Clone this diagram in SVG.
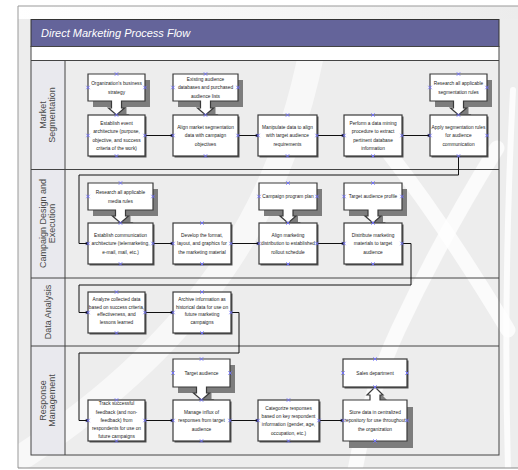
<svg xmlns="http://www.w3.org/2000/svg" width="518" height="470" viewBox="0 0 518 470">
<defs>
<style>
.bx{fill:#fff;stroke:#3a3a3a;stroke-width:1.2}
.sh{fill:#555}
.csh{fill:#7d7d7d}
.t{font-family:"Liberation Sans",Arial,sans-serif;font-size:6px;fill:#222;text-anchor:middle}
.lane{font-family:"Liberation Sans",Arial,sans-serif;font-size:9px;fill:#4a4a4a;text-anchor:middle}
.ln{fill:none;stroke:#444;stroke-width:1}
.cn{fill:none;stroke:#111;stroke-width:1;marker-end:url(#dot)}
.sw{fill:none;stroke:#fff;stroke-linecap:round}
</style>
<marker id="dot" viewBox="0 0 4 4" refX="3" refY="2" markerWidth="4" markerHeight="4" markerUnits="userSpaceOnUse">
<circle cx="2" cy="2" r="1.6" fill="#111"/>
</marker>
<g id="xm"><path d="M-1.7,-1.7L1.7,1.7M-1.7,1.7L1.7,-1.7" stroke="#7070ff" stroke-width="0.9" fill="none"/></g>
<linearGradient id="tg" x1="0" y1="0" x2="1" y2="0">
<stop offset="0" stop-color="#ffffff"/><stop offset="0.6" stop-color="#f4f4f4"/><stop offset="1" stop-color="#ececec"/>
</linearGradient>
<clipPath id="pg"><rect x="18" y="6" width="500" height="462"/></clipPath>
</defs>

<rect x="0" y="0" width="518" height="470" fill="#fff"/>
<g id="page">
<rect x="18" y="6" width="500" height="462" fill="#ededed"/>
<rect x="18" y="6" width="500" height="13" fill="url(#tg)"/>
<g clip-path="url(#pg)">
<path class="sw" d="M312,50 C285,190 215,330 25,455" stroke-width="26" opacity="0.6"/>
<path class="sw" d="M385,148 Q445,225 508,330" stroke-width="15" opacity="0.75"/>
<path class="sw" d="M497,148 Q440,240 398,330 Q370,390 355,470" stroke-width="15" opacity="0.75"/>
<path class="sw" d="M513,90 Q503,290 508,470" stroke-width="6" opacity="0.8"/>
</g>
<path d="M18,468 V6 H518" fill="none" stroke="#999" stroke-width="1"/>
<path d="M18,468 H518" fill="none" stroke="#888" stroke-width="1"/>
</g>

<g id="frame">
<rect x="31" y="19.5" width="468" height="27" fill="#64649a" stroke="#333" stroke-width="1"/>
<text x="41" y="37" font-family="Liberation Sans,Arial,sans-serif" font-size="11" font-style="italic" fill="#fff">Direct Marketing Process Flow</text>
<rect x="31" y="46.5" width="468" height="14" fill="#fff"/>
<rect x="31" y="60.5" width="34" height="394.5" fill="#e9e9ee"/>
<rect x="31" y="46.5" width="468" height="408.5" class="ln" stroke-width="1.2"/>
<path class="ln" d="M31,60.5 H499 M31,169.5 H499 M31,278 H499 M31,346 H499 M65,60.5 V455"/>
</g>

<g id="lanes">
<text class="lane" transform="translate(48,115) rotate(-90)"><tspan x="0" y="-2.1">Market</tspan><tspan x="0" y="6.9">Segmentation</tspan></text>
<text class="lane" transform="translate(48,223.5) rotate(-90)"><tspan x="0" y="-2.1">Campaign Design and</tspan><tspan x="0" y="6.9">Execution</tspan></text>
<text class="lane" transform="translate(48,312) rotate(-90)"><tspan x="0" y="3.2">Data Analysis</tspan></text>
<text class="lane" transform="translate(48,400.5) rotate(-90)"><tspan x="0" y="-2.1">Response</tspan><tspan x="0" y="6.9">Management</tspan></text>
</g>

<g id="connectors">
<path class="cn" d="M145,135.5 H173"/>
<path class="cn" d="M238,135.5 H258"/>
<path class="cn" d="M317,135.5 H344"/>
<path class="cn" d="M402,135.5 H430"/>
<path class="cn" d="M458.5,156 V175 H79 V243.5 H88"/>
<path class="cn" d="M153,243.5 H173"/>
<path class="cn" d="M231,243.5 H259"/>
<path class="cn" d="M317,243.5 H344"/>
<path class="cn" d="M402,243.5 H411 V285 H79 V312.5 H88"/>
<path class="cn" d="M145,312.5 H173"/>
<path class="cn" d="M231,312.5 H239 V353 H79 V420.5 H88"/>
<path class="cn" d="M145,420.5 H173"/>
<path class="cn" d="M230,420.5 H258"/>
<path class="cn" d="M319,420.5 H343"/>
</g>

<!-- Market Segmentation -->
<g id="ms-strategy">
<path class="csh" transform="translate(5,6)" d="M88,74 H145 V101 H121.5 V108 H124.5 L116.5,115 L108.5,108 H111.5 V101 H88 Z"/>
<path class="bx" d="M88,74 H145 V101 H121.5 V108 H124.5 L116.5,115 L108.5,108 H111.5 V101 H88 Z"/>
<text class="t" transform="translate(116.5,0) scale(0.8,1)"><tspan x="0" y="85.4">Organization's business</tspan><tspan x="0" y="93.6">strategy</tspan></text>
<use href="#xm" x="116.5" y="74"/><use href="#xm" x="88" y="87.5"/><use href="#xm" x="145" y="87.5"/>
</g>
<g id="ms-establish">
<rect class="sh" x="89.5" y="116.5" width="57" height="41"/>
<rect class="bx" x="88" y="115" width="57" height="41"/>
<text class="t" transform="translate(116.5,0) scale(0.8,1)"><tspan x="0" y="125.2">Establish event</tspan><tspan x="0" y="133.4">architecture (purpose,</tspan><tspan x="0" y="141.6">objective, and success</tspan><tspan x="0" y="149.8">criteria of the work)</tspan></text>
<use href="#xm" x="116.5" y="115"/><use href="#xm" x="116.5" y="156"/><use href="#xm" x="88" y="135.5"/><use href="#xm" x="145" y="135.5"/>
</g>
<g id="ms-existing">
<path class="csh" transform="translate(5,6)" d="M173,74 H238 V101 H210.5 V108 H213.5 L205.5,115 L197.5,108 H200.5 V101 H173 Z"/>
<path class="bx" d="M173,74 H238 V101 H210.5 V108 H213.5 L205.5,115 L197.5,108 H200.5 V101 H173 Z"/>
<text class="t" transform="translate(205.5,0) scale(0.8,1)"><tspan x="0" y="81.3">Existing audience</tspan><tspan x="0" y="89.5">databases and purchased</tspan><tspan x="0" y="97.7">audience lists</tspan></text>
<use href="#xm" x="205.5" y="74"/><use href="#xm" x="173" y="87.5"/><use href="#xm" x="238" y="87.5"/>
</g>
<g id="ms-align">
<rect class="sh" x="174.5" y="116.5" width="65" height="41"/>
<rect class="bx" x="173" y="115" width="65" height="41"/>
<text class="t" transform="translate(205.5,0) scale(0.8,1)"><tspan x="0" y="129.3">Align market segmentation</tspan><tspan x="0" y="137.5">data with campaign</tspan><tspan x="0" y="145.7">objectives</tspan></text>
<use href="#xm" x="205.5" y="115"/><use href="#xm" x="205.5" y="156"/><use href="#xm" x="173" y="135.5"/><use href="#xm" x="238" y="135.5"/>
</g>
<g id="ms-manipulate">
<rect class="sh" x="259.5" y="116.5" width="59" height="41"/>
<rect class="bx" x="258" y="115" width="59" height="41"/>
<text class="t" transform="translate(287.5,0) scale(0.8,1)"><tspan x="0" y="129.3">Manipulate data to align</tspan><tspan x="0" y="137.5">with target audience</tspan><tspan x="0" y="145.7">requirements</tspan></text>
<use href="#xm" x="287.5" y="115"/><use href="#xm" x="287.5" y="156"/><use href="#xm" x="258" y="135.5"/><use href="#xm" x="317" y="135.5"/>
</g>
<g id="ms-mining">
<rect class="sh" x="345.5" y="116.5" width="58" height="41"/>
<rect class="bx" x="344" y="115" width="58" height="41"/>
<text class="t" transform="translate(373,0) scale(0.8,1)"><tspan x="0" y="125.2">Perform a data mining</tspan><tspan x="0" y="133.4">procedure to extract</tspan><tspan x="0" y="141.6">pertinent database</tspan><tspan x="0" y="149.8">information</tspan></text>
<use href="#xm" x="373" y="115"/><use href="#xm" x="373" y="156"/><use href="#xm" x="344" y="135.5"/><use href="#xm" x="402" y="135.5"/>
</g>
<g id="ms-research">
<path class="csh" transform="translate(5,6)" d="M430,74 H487 V101 H463.5 V108 H466.5 L458.5,115 L450.5,108 H453.5 V101 H430 Z"/>
<path class="bx" d="M430,74 H487 V101 H463.5 V108 H466.5 L458.5,115 L450.5,108 H453.5 V101 H430 Z"/>
<text class="t" transform="translate(458.5,0) scale(0.8,1)"><tspan x="0" y="85.4">Research all applicable</tspan><tspan x="0" y="93.6">segmentation rules</tspan></text>
<use href="#xm" x="458.5" y="74"/><use href="#xm" x="430" y="87.5"/><use href="#xm" x="487" y="87.5"/>
</g>
<g id="ms-apply">
<rect class="sh" x="431.5" y="116.5" width="57" height="41"/>
<rect class="bx" x="430" y="115" width="57" height="41"/>
<text class="t" transform="translate(458.5,0) scale(0.8,1)"><tspan x="0" y="129.3">Apply segmentation rules</tspan><tspan x="0" y="137.5">for audience</tspan><tspan x="0" y="145.7">communication</tspan></text>
<use href="#xm" x="458.5" y="115"/><use href="#xm" x="458.5" y="156"/><use href="#xm" x="430" y="135.5"/><use href="#xm" x="487" y="135.5"/>
</g>

<!-- Campaign Design and Execution -->
<g id="ce-media">
<path class="csh" transform="translate(5,6)" d="M88,183 H153 V210 H125.5 V216 H128.5 L120.5,223 L112.5,216 H115.5 V210 H88 Z"/>
<path class="bx" d="M88,183 H153 V210 H125.5 V216 H128.5 L120.5,223 L112.5,216 H115.5 V210 H88 Z"/>
<text class="t" transform="translate(120.5,0) scale(0.8,1)"><tspan x="0" y="194.4">Research all applicable</tspan><tspan x="0" y="202.6">media rules</tspan></text>
<use href="#xm" x="120.5" y="183"/><use href="#xm" x="88" y="196.5"/><use href="#xm" x="153" y="196.5"/>
</g>
<g id="ce-establish">
<rect class="sh" x="89.5" y="224.5" width="65" height="41"/>
<rect class="bx" x="88" y="223" width="65" height="41"/>
<text class="t" transform="translate(120.5,0) scale(0.8,1)"><tspan x="0" y="237.3">Establish communication</tspan><tspan x="0" y="245.5">architecture (telemarketing,</tspan><tspan x="0" y="253.7">e-mail, mail, etc.)</tspan></text>
<use href="#xm" x="120.5" y="223"/><use href="#xm" x="120.5" y="264"/><use href="#xm" x="88" y="243.5"/><use href="#xm" x="153" y="243.5"/>
</g>
<g id="ce-develop">
<rect class="sh" x="174.5" y="224.5" width="58" height="41"/>
<rect class="bx" x="173" y="223" width="58" height="41"/>
<text class="t" transform="translate(202,0) scale(0.8,1)"><tspan x="0" y="237.3">Develop the format,</tspan><tspan x="0" y="245.5">layout, and graphics for</tspan><tspan x="0" y="253.7">the marketing material</tspan></text>
<use href="#xm" x="202" y="223"/><use href="#xm" x="202" y="264"/><use href="#xm" x="173" y="243.5"/><use href="#xm" x="231" y="243.5"/>
</g>
<g id="ce-plan">
<path class="csh" transform="translate(5,6)" d="M259,183 H317 V210 H293 V216 H296 L288,223 L280,216 H283 V210 H259 Z"/>
<path class="bx" d="M259,183 H317 V210 H293 V216 H296 L288,223 L280,216 H283 V210 H259 Z"/>
<text class="t" transform="translate(288,0) scale(0.8,1)"><tspan x="0" y="198.5">Campaign program plan</tspan></text>
<use href="#xm" x="288" y="183"/><use href="#xm" x="259" y="196.5"/><use href="#xm" x="317" y="196.5"/>
</g>
<g id="ce-align">
<rect class="sh" x="260.5" y="224.5" width="58" height="41"/>
<rect class="bx" x="259" y="223" width="58" height="41"/>
<text class="t" transform="translate(288,0) scale(0.8,1)"><tspan x="0" y="237.3">Align marketing</tspan><tspan x="0" y="245.5">distribution to established</tspan><tspan x="0" y="253.7">rollout schedule</tspan></text>
<use href="#xm" x="288" y="223"/><use href="#xm" x="288" y="264"/><use href="#xm" x="259" y="243.5"/><use href="#xm" x="317" y="243.5"/>
</g>
<g id="ce-profile">
<path class="csh" transform="translate(5,6)" d="M344,183 H402 V210 H378 V216 H381 L373,223 L365,216 H368 V210 H344 Z"/>
<path class="bx" d="M344,183 H402 V210 H378 V216 H381 L373,223 L365,216 H368 V210 H344 Z"/>
<text class="t" transform="translate(373,0) scale(0.8,1)"><tspan x="0" y="198.5">Target audience profile</tspan></text>
<use href="#xm" x="373" y="183"/><use href="#xm" x="344" y="196.5"/><use href="#xm" x="402" y="196.5"/>
</g>
<g id="ce-distribute">
<rect class="sh" x="345.5" y="224.5" width="58" height="41"/>
<rect class="bx" x="344" y="223" width="58" height="41"/>
<text class="t" transform="translate(373,0) scale(0.8,1)"><tspan x="0" y="237.3">Distribute marketing</tspan><tspan x="0" y="245.5">materials to target</tspan><tspan x="0" y="253.7">audience</tspan></text>
<use href="#xm" x="373" y="223"/><use href="#xm" x="373" y="264"/><use href="#xm" x="344" y="243.5"/><use href="#xm" x="402" y="243.5"/>
</g>

<!-- Data Analysis -->
<g id="da-analyze">
<rect class="sh" x="89.5" y="293.5" width="57" height="41"/>
<rect class="bx" x="88" y="292" width="57" height="41"/>
<text class="t" transform="translate(116.5,0) scale(0.8,1)"><tspan x="0" y="300.8">Analyze collected data</tspan><tspan x="0" y="308.6">based on success criteria,</tspan><tspan x="0" y="316.4">effectiveness, and</tspan><tspan x="0" y="324.2">lessons learned</tspan></text>
<use href="#xm" x="116.5" y="292"/><use href="#xm" x="116.5" y="333"/><use href="#xm" x="88" y="312.5"/><use href="#xm" x="145" y="312.5"/>
</g>
<g id="da-archive">
<rect class="sh" x="174.5" y="293.5" width="58" height="41"/>
<rect class="bx" x="173" y="292" width="58" height="41"/>
<text class="t" transform="translate(202,0) scale(0.8,1)"><tspan x="0" y="300.8">Archive information as</tspan><tspan x="0" y="308.6">historical data for use on</tspan><tspan x="0" y="316.4">future marketing</tspan><tspan x="0" y="324.2">campaigns</tspan></text>
<use href="#xm" x="202" y="292"/><use href="#xm" x="202" y="333"/><use href="#xm" x="173" y="312.5"/><use href="#xm" x="231" y="312.5"/>
</g>

<!-- Response Management -->
<g id="rm-track">
<rect class="sh" x="89.5" y="401.5" width="57" height="41"/>
<rect class="bx" x="88" y="400" width="57" height="41"/>
<text class="t" transform="translate(116.5,0) scale(0.8,1)"><tspan x="0" y="405.3">Track successful</tspan><tspan x="0" y="413.6">feedback (and non-</tspan><tspan x="0" y="421.9">feedback) from</tspan><tspan x="0" y="430.2">respondents for use on</tspan><tspan x="0" y="438.5">future campaigns</tspan></text>
<use href="#xm" x="116.5" y="400"/><use href="#xm" x="116.5" y="441"/><use href="#xm" x="88" y="420.5"/><use href="#xm" x="145" y="420.5"/>
</g>
<g id="rm-target">
<path class="csh" transform="translate(5,6)" d="M173,359 H230 V387 H206.5 V393 H209.5 L201.5,400 L193.5,393 H196.5 V387 H173 Z"/>
<path class="bx" d="M173,359 H230 V387 H206.5 V393 H209.5 L201.5,400 L193.5,393 H196.5 V387 H173 Z"/>
<text class="t" transform="translate(201.5,0) scale(0.8,1)"><tspan x="0" y="375">Target audience</tspan></text>
<use href="#xm" x="201.5" y="359"/><use href="#xm" x="173" y="373"/><use href="#xm" x="230" y="373"/>
</g>
<g id="rm-manage">
<rect class="sh" x="174.5" y="401.5" width="57" height="41"/>
<rect class="bx" x="173" y="400" width="57" height="41"/>
<text class="t" transform="translate(201.5,0) scale(0.8,1)"><tspan x="0" y="414.3">Manage influx of</tspan><tspan x="0" y="422.5">responses from target</tspan><tspan x="0" y="430.7">audience</tspan></text>
<use href="#xm" x="201.5" y="400"/><use href="#xm" x="201.5" y="441"/><use href="#xm" x="173" y="420.5"/><use href="#xm" x="230" y="420.5"/>
</g>
<g id="rm-categorize">
<rect class="sh" x="259.5" y="401.5" width="61" height="41"/>
<rect class="bx" x="258" y="400" width="61" height="41"/>
<text class="t" transform="translate(288.5,0) scale(0.8,1)"><tspan x="0" y="409.7">Categorize responses</tspan><tspan x="0" y="418">based on key respondent</tspan><tspan x="0" y="426.3">information (gender, age,</tspan><tspan x="0" y="434.6">occupation, etc.)</tspan></text>
<use href="#xm" x="288.5" y="400"/><use href="#xm" x="288.5" y="441"/><use href="#xm" x="258" y="420.5"/><use href="#xm" x="319" y="420.5"/>
</g>
<g id="rm-sales">
<rect class="sh" x="344.5" y="360.5" width="64" height="28"/>
<rect class="bx" x="343" y="359" width="64" height="28"/>
<text class="t" transform="translate(375,0) scale(0.8,1)"><tspan x="0" y="375">Sales department</tspan></text>
<use href="#xm" x="375" y="359"/><use href="#xm" x="343" y="373"/><use href="#xm" x="407" y="373"/>
</g>
<g id="rm-store">
<path class="csh" transform="translate(6,7)" d="M343,400 H370 V395 H367 L375,387 L383,395 H380 V400 H407 V441 H343 Z"/>
<path class="bx" d="M343,400 H370 V395 H367 L375,387 L383,395 H380 V400 H407 V441 H343 Z"/>
<text class="t" transform="translate(375,0) scale(0.8,1)"><tspan x="0" y="414.3">Store data in centralized</tspan><tspan x="0" y="422.5">repository for use throughout</tspan><tspan x="0" y="430.7">the organization</tspan></text>
<use href="#xm" x="375" y="387"/><use href="#xm" x="375" y="441"/><use href="#xm" x="343" y="420.5"/><use href="#xm" x="407" y="420.5"/>
</g>
</svg>
